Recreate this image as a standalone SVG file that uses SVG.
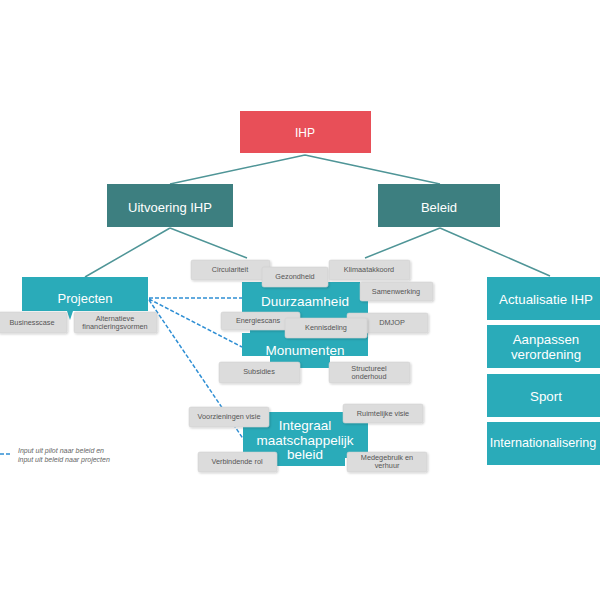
<svg xmlns="http://www.w3.org/2000/svg" width="600" height="600" viewBox="0 0 600 600">
<defs>
<style>
.t{font-family:"Liberation Sans",Arial,sans-serif;fill:#fff;text-anchor:middle}
.r{font-size:13.3px}
.g{font-family:"Liberation Sans",Arial,sans-serif;fill:#555;font-size:7.3px;text-anchor:middle}
.gb{fill:#dcdcdc;stroke:#cfcfcf;stroke-width:0.5}
.teal{fill:#2aabb9}
.dark{fill:#3d7f80}
.tree{stroke:#4f9597;stroke-width:1.5;fill:none}
.dash{stroke:#2f8fd4;stroke-width:1.5;stroke-dasharray:4 2;fill:none}
</style>
<filter id="sh" x="-10%" y="-20%" width="130%" height="150%"><feDropShadow dx="1" dy="1" stdDeviation="1" flood-color="#000" flood-opacity="0.2"/></filter>
</defs>
<rect width="600" height="600" fill="#fff"/>
<g id="connectors">
<path class="tree" d="M305 155 L170 184 M305 155 L440 184 M170 228 L85 277 M170 228 L247 258 M440 228 L365 258 M440 228 L550 276"/>
<path class="dash" d="M149 298 L242 298 M149 299 L242 347 M149 300 L244 440"/>
</g>
<g id="ihp"><rect x="240" y="111" width="131" height="42" fill="#e84f58"/><text class="t" x="305" y="137" font-size="12">IHP</text></g>
<g id="uitvoering"><rect class="dark" x="107" y="184" width="126" height="43"/><text class="t" x="170" y="212" font-size="13">Uitvoering IHP</text></g>
<g id="beleid"><rect class="dark" x="378" y="184" width="122" height="43"/><text class="t" x="439" y="212" font-size="13">Beleid</text></g>
<g id="projecten"><path class="teal" d="M22 277 H148 V311 H73 L70 320 L67 311 H22 Z"/><text class="t" x="85" y="303" font-size="13">Projecten</text></g>
<g id="businesscase"><rect class="gb" filter="url(#sh)" x="-2" y="312" width="69" height="21" rx="2"/><text class="g" x="32" y="325">Businesscase</text></g>
<g id="alternatieve"><rect class="gb" filter="url(#sh)" x="74" y="312" width="83" height="21" rx="2"/><text class="g" x="115" y="321">Alternatieve</text><text class="g" x="115" y="329">financieringsvormen</text></g>
<g id="duurzaamheid-monumenten">
<path class="teal" d="M242 282 H360 V300 H368 V318 H360 V333 H368 V356 H330 V368 H270 V356 H242 V333 H250 V318 H242 Z"/>
<text class="t" x="305" y="306" font-size="13.5">Duurzaamheid</text>
<text class="t" x="305" y="355" font-size="13.5">Monumenten</text>
</g>
<g id="circulariteit"><rect class="gb" filter="url(#sh)" x="191" y="260" width="79" height="20" rx="2"/><text class="g" x="230" y="272">Circulariteit</text></g>
<g id="gezondheid"><rect class="gb" filter="url(#sh)" x="262" y="267" width="66" height="20" rx="2"/><text class="g" x="295" y="279">Gezondheid</text></g>
<g id="klimaatakkoord"><rect class="gb" filter="url(#sh)" x="329" y="260" width="81" height="20" rx="2"/><text class="g" x="369" y="272">Klimaatakkoord</text></g>
<g id="samenwerking"><rect class="gb" filter="url(#sh)" x="360" y="282" width="73" height="19" rx="2"/><text class="g" x="396" y="294">Samenwerking</text></g>
<g id="energiescans"><rect class="gb" filter="url(#sh)" x="221" y="312" width="79" height="18" rx="2"/><text class="g" x="258" y="323">Energiescans</text></g>
<g id="dmjop"><rect class="gb" filter="url(#sh)" x="347" y="313" width="81" height="20" rx="2"/><text class="g" x="392" y="325">DMJOP</text></g>
<g id="kennisdeling"><rect class="gb" filter="url(#sh)" x="285" y="318" width="82" height="20" rx="2"/><text class="g" x="326" y="330">Kennisdeling</text></g>
<g id="subsidies"><rect class="gb" filter="url(#sh)" x="219" y="362" width="81" height="21" rx="2"/><text class="g" x="259" y="374">Subsidies</text></g>
<g id="structureel"><rect class="gb" filter="url(#sh)" x="329" y="362" width="81" height="21" rx="2"/><text class="g" x="369" y="371">Structureel</text><text class="g" x="369" y="379">onderhoud</text></g>
<g id="integraal">
<path class="teal" d="M243 418 H262 V412 H345 V418 H368 V458 H345 V466 H262 V458 H243 Z"/>
<text class="t" x="305" y="430" font-size="13.5">Integraal</text>
<text class="t" x="305" y="445" font-size="13.5">maatschappelijk</text>
<text class="t" x="305" y="459" font-size="13.5">beleid</text>
</g>
<g id="voorzieningen"><rect class="gb" filter="url(#sh)" x="189" y="407" width="80" height="20" rx="2"/><text class="g" x="229" y="419">Voorzieningen visie</text></g>
<g id="ruimtelijke"><rect class="gb" filter="url(#sh)" x="343" y="404" width="80" height="19" rx="2"/><text class="g" x="383" y="416">Ruimtelijke visie</text></g>
<g id="verbindende"><rect class="gb" filter="url(#sh)" x="198" y="452" width="79" height="20" rx="2"/><text class="g" x="237" y="464">Verbindende rol</text></g>
<g id="medegebruik"><rect class="gb" filter="url(#sh)" x="347" y="452" width="80" height="20" rx="2"/><text class="g" x="387" y="460">Medegebruik en</text><text class="g" x="387" y="468">verhuur</text></g>
<g id="actualisatie"><rect class="teal" x="487" y="277" width="120" height="43"/><text class="t r" x="546" y="304">Actualisatie IHP</text></g>
<g id="aanpassen"><rect class="teal" x="487" y="325" width="120" height="43"/><text class="t r" x="546" y="344">Aanpassen</text><text class="t r" x="546" y="359">verordening</text></g>
<g id="sport"><rect class="teal" x="487" y="374" width="120" height="43"/><text class="t r" x="546" y="401">Sport</text></g>
<g id="internationalisering"><rect class="teal" x="487" y="422" width="120" height="43"/><text class="t" x="543" y="447" font-size="12.6">Internationalisering</text></g>
<g id="legend">
<line class="dash" x1="0" y1="454" x2="12" y2="454"/>
<text x="18" y="453" font-family="Liberation Sans, Arial, sans-serif" font-size="7" font-style="italic" fill="#666">Input uit pilot naar beleid en</text>
<text x="18" y="462" font-family="Liberation Sans, Arial, sans-serif" font-size="7" font-style="italic" fill="#666">input uit beleid naar projecten</text>
</g>
</svg>
